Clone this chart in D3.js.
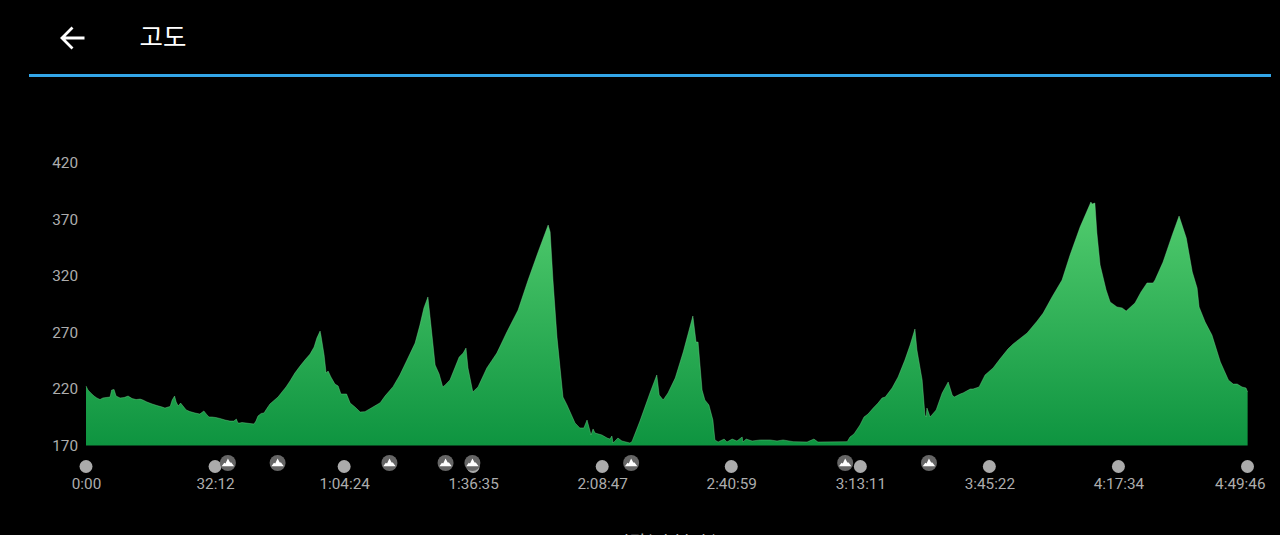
<!DOCTYPE html>
<html>
<head>
<meta charset="utf-8">
<script src="https://d3js.org/d3.v7.min.js"></script>
<style>
  html, body { margin: 0; padding: 0; background: #000; overflow: hidden; }
  text { font-family: Roboto, sans-serif; }
</style>
</head>
<body>
<div id="chart"></div>
<script>
const WIDTH = 1280;
const HEIGHT = 535;
const MARGIN = { top: 162.5, right: 32.5, bottom: 89.5, left: 86 };
const LABEL_COLOR = '#adadad';
const LABEL_SIZE = '15.3px';

// elapsed time in minutes, elevation in metres
const minutes = [0,.5,1.2,2,2.7,3.5,4.2,5,6,6.4,7,7.5,8.5,9.5,10.5,11.5,12.5,13.5,14.2,15.2,16.5,17.7,19,19.7,20.5,21,21.5,22.1,22.5,23,23.6,24.2,25,25.9,27.2,28.4,29.4,30.2,30.7,31.4,32.4,33.4,34.7,35.9,36.9,37.5,37.9,38.4,38.9,39.9,40.9,41.9,42.4,42.9,43.7,44.4,45.2,45.9,46.9,47.9,48.9,49.9,50.9,52.1,53.4,54.6,55.9,56.9,57.6,58.4,58.6,59.4,59.9,60.4,61.1,62.1,62.9,63.6,65,65.9,67.1,68.4,69.6,71.6,73.4,74.6,76.6,78.3,80.8,82.1,83.3,84.3,85.3,86,87.1,88.1,89,89.6,90.8,92.1,93.1,94.1,94.8,95.3,96.5,97.8,100,102.5,105,107.8,110.3,112.8,115.3,115.8,116.5,117.5,119,120,122,123.2,124.2,125,126,126.5,127,128.7,130,130.7,131.2,131.5,132.7,133.7,135.7,136.2,138.2,140.7,142.4,143,144,145.2,147,149,151.4,152.2,152.7,153.7,154.4,155.4,156.4,156.9,157.7,159.2,159.9,161.2,162.4,163.7,163.9,164.7,166.2,168.2,170.7,172.4,173.9,176.4,179.9,181.6,182.6,189.9,190.6,191.6,193.1,194.1,195.1,196.4,197.6,198.6,199.4,201.1,202.6,204.3,205.6,206.8,207.3,208.6,209.3,209.6,209.8,210.6,212.1,213.6,215.1,216.1,216.6,218.1,218.8,220.6,221.3,222.8,224.3,226.3,228,230,231.3,234.8,237.3,238.8,241,243.5,245.5,248,250.7,251,251.7,252.2,253,254.5,255.5,257.2,258.5,259.5,261.7,263.2,264.7,266.2,266.7,268.7,271,272.7,274.5,276,277.2,277.7,279.2,280.9,283,285,286.2,287.2,288.4,289.4,289.8];
const elevation = [222.6,219,216.4,213.7,212,210.6,212,212.4,212.8,219,219.5,213.7,212,212.4,213.7,211.5,210.6,211,210.2,208.4,206.7,205.3,204,203.1,204,204.5,210.2,213.7,208.4,204.9,207.5,204.9,201.4,200,198.7,197.8,200.5,197,195.2,195.2,194.7,193.9,192.5,191.6,191.6,193.4,189.9,189.9,190.3,189.9,189.4,189,191.6,196,198.3,198.7,203.1,206.7,209.8,212.8,217.3,221.7,227,234,240.2,245.5,250.8,257,265,271.1,267.6,250,234,235.8,230.5,224.3,222.6,215.5,215.5,207.5,204,199.6,199.9,204,207.8,213.7,222,232.3,250.8,260.5,276.4,291.5,301.2,278.2,241.1,233.2,221.7,223.4,227.9,239.3,248.2,251.7,256.1,238.5,217.3,221.7,238.5,251.7,270.3,289.7,316.2,341,364.8,358.6,316.2,265.8,212.8,205.8,189.9,185.5,185.5,192.5,179.3,184.6,181,179.3,176.6,175.7,178.4,172.2,176.6,174,172.2,173.4,191.6,216.4,232.3,214.6,210.2,216.4,229.6,252.6,284.4,261.4,261.4,219,210.2,205.8,192.5,174.9,173.1,175.7,173.1,175.7,174,177.5,173.1,175.7,174,174.9,174.9,174,174.9,173.4,173.1,175.7,173.1,173.4,177.5,180.2,188.1,195.2,197.8,203.1,207.5,212,212.8,220.8,230.5,245.5,258.8,272.9,254.4,227.9,196.9,195.2,203.1,195.2,201.4,216.4,226.1,214.6,212.8,215.5,216.4,219.9,219.9,221.7,232.3,238.5,246.4,255.2,259.7,269.4,280,287,301.2,316.2,338.3,363,385.1,383.3,384.2,357.7,329.5,307.4,296.8,292.4,291.5,288.8,295.9,305.6,313.6,313.6,316.2,332.1,356,372.7,353.3,323.3,309.1,292.4,279.1,267.6,243.8,227.9,224.3,224.3,221.7,220.8,217.3];

const xTickMinutes = [0, 32.2, 64.4, 96.58, 128.78, 160.98, 193.18, 225.37, 257.57, 289.77];
const xTickLabels = ['0:00', '32:12', '1:04:24', '1:36:35', '2:08:47', '2:40:59', '3:13:11', '3:45:22', '4:17:34', '4:49:46'];
const yTicks = [170, 220, 270, 320, 370, 420];
// climb markers along the time axis
const climbMinutes = [35.4, 47.8, 75.7, 89.7, 96.4, 136, 189.4, 210.3];

const points = minutes.map((m, i) => ({ m: m, e: elevation[i] }));

const x = d3.scaleLinear()
  .domain([0, 289.77])
  .range([MARGIN.left, WIDTH - MARGIN.right]);
const y = d3.scaleLinear()
  .domain([170, 420])
  .range([HEIGHT - MARGIN.bottom, MARGIN.top]);

const svg = d3.select('#chart')
  .append('svg')
  .attr('width', WIDTH)
  .attr('height', HEIGHT)
  .style('display', 'block')
  .style('background', '#000');

// header
svg.append('path')
  .attr('d', 'M84.5 38H62M72.5 27.5L62 38L72.5 48.5')
  .attr('fill', 'none')
  .attr('stroke', '#fff')
  .attr('stroke-width', 2.8);
svg.append('text')
  .attr('x', 139.5)
  .attr('y', 46)
  .attr('fill', '#fff')
  .style('font-family', '"Noto Sans CJK KR"')
  .style('font-size', '25.5px')
  .style('font-weight', 400)
  .text('고도');
svg.append('rect')
  .attr('x', 29)
  .attr('y', 74)
  .attr('width', 1242)
  .attr('height', 3)
  .attr('fill', '#33a6e8');

// gradient runs from the top of the profile down to the baseline
const gradient = svg.append('defs')
  .append('linearGradient')
  .attr('id', 'fill-green')
  .attr('gradientUnits', 'userSpaceOnUse')
  .attr('x1', 0).attr('x2', 0)
  .attr('y1', y(385)).attr('y2', y(170));
gradient.append('stop').attr('offset', '0%').attr('stop-color', '#52cc6e');
gradient.append('stop').attr('offset', '100%').attr('stop-color', '#0e9440');

const area = d3.area()
  .x(d => x(d.m))
  .y0(y(170))
  .y1(d => y(d.e));
svg.append('path')
  .datum(points)
  .attr('d', area)
  .attr('fill', 'url(#fill-green)');

// thin lighter edge along the top of the profile
const edge = d3.line()
  .x(d => x(d.m))
  .y(d => y(d.e));
svg.append('path')
  .datum(points)
  .attr('d', edge)
  .attr('fill', 'none')
  .attr('stroke', '#7fe39a')
  .attr('stroke-opacity', 0.55)
  .attr('stroke-width', 0.7);

const yAxis = d3.axisLeft(y)
  .tickValues(yTicks)
  .tickSize(0)
  .tickPadding(8);
const yGuide = svg.append('g')
  .attr('transform', `translate(${MARGIN.left}, 0)`)
  .call(yAxis);
yGuide.select('.domain').remove();
yGuide.selectAll('text')
  .attr('fill', LABEL_COLOR)
  .style('font-size', LABEL_SIZE);

const xAxis = d3.axisBottom(x)
  .tickValues(xTickMinutes)
  .tickFormat((d, i) => xTickLabels[i])
  .tickSize(0)
  .tickPadding(0);
const xGuide = svg.append('g')
  .attr('transform', `translate(0, 478)`)
  .call(xAxis);
xGuide.select('.domain').remove();
xGuide.selectAll('text')
  .attr('fill', LABEL_COLOR)
  .style('font-size', LABEL_SIZE);
// last label is pulled back inside the right edge
xGuide.selectAll('.tick:last-of-type text')
  .attr('text-anchor', 'end')
  .attr('x', 17.5);

// grey dots above each time label, climb badges drawn over them
svg.append('g')
  .selectAll('circle')
  .data(xTickMinutes)
  .enter()
  .append('circle')
  .attr('cx', d => x(d))
  .attr('cy', 466.5)
  .attr('r', 6.5)
  .attr('fill', '#ababab');

const badges = svg.append('g')
  .selectAll('g')
  .data(climbMinutes)
  .enter()
  .append('g')
  .attr('transform', d => `translate(${x(d)}, 463)`);
badges.append('circle')
  .attr('r', 8)
  .attr('fill', '#666666');
badges.append('path')
  .attr('d', 'M-6.2 3.2L-3.6 -0.2L-2.4 0.4L0 -4.6L2.2 -0.6L3.4 -0.4L6.2 3.2Z')
  .attr('fill', '#fff');

// axis title, cut off by the bottom of the picture
svg.append('text')
  .attr('x', 665.5)
  .attr('y', 549)
  .attr('text-anchor', 'middle')
  .attr('fill', LABEL_COLOR)
  .style('font-family', '"Noto Sans CJK KR"')
  .style('font-size', '18px')
  .text('시간(시:분:초)');
</script>
</body>
</html>
